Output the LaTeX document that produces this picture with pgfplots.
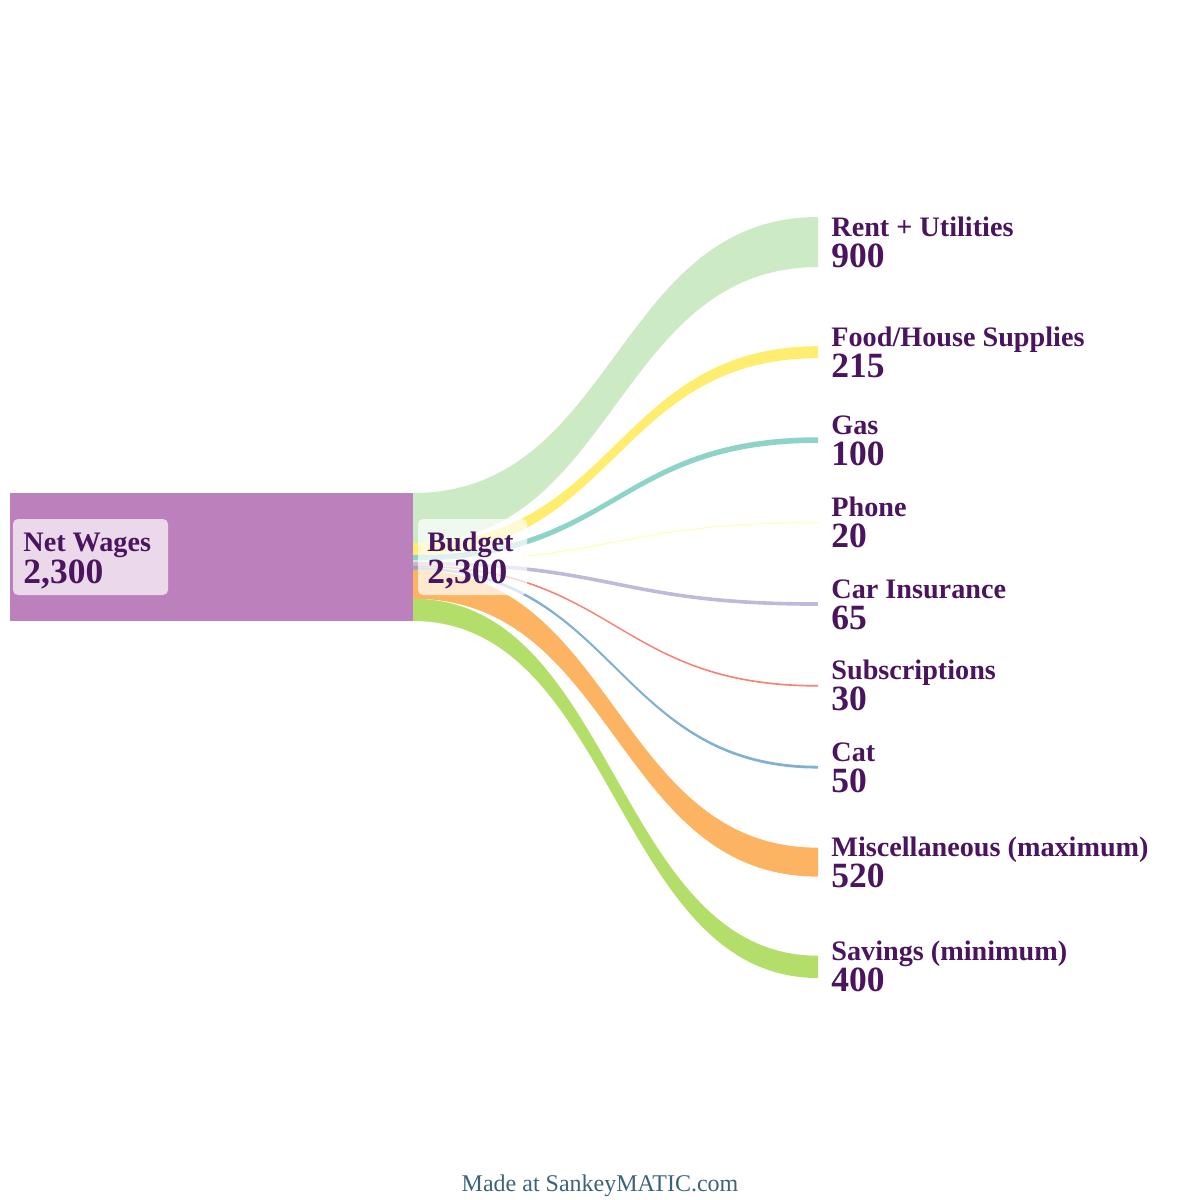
\documentclass[border=0pt]{standalone}
\usepackage{pgfplots}
\usepackage{pgfplotstable}
\pgfplotsset{compat=1.18}
\usepackage{fontspec}
\setmainfont{Liberation Serif}
\definecolor{labcol}{RGB}{75,20,95}
\definecolor{cNet}{HTML}{BC80BD}
\definecolor{cRent}{HTML}{CCEBC5}
\definecolor{cFood}{HTML}{FFED6F}
\definecolor{cGas}{HTML}{8DD3C7}
\definecolor{cPhone}{HTML}{FFFFB3}
\definecolor{cCar}{HTML}{BEBADA}
\definecolor{cSubs}{HTML}{FB8072}
\definecolor{cCat}{HTML}{80B1D3}
\definecolor{cMisc}{HTML}{FDB462}
\definecolor{cSav}{HTML}{B3DE69}
\definecolor{footcol}{RGB}{60,100,120}
\newcommand\namefont{\fontsize{14.1}{16}\selectfont\bfseries}
\newcommand\valfont{\fontsize{17.75}{20}\selectfont\bfseries}

\pgfplotstableread[col sep=comma]{
name,value,col
Rent + Utilities,900,cRent
Food/House Supplies,215,cFood
Gas,100,cGas
Phone,20,cPhone
Car Insurance,65,cCar
Subscriptions,30,cSubs
Cat,50,cCat
Miscellaneous (maximum),520,cMisc
Savings (minimum),400,cSav
}\flows

\begin{document}
\begin{tikzpicture}
\begin{axis}[
  width=600pt, height=600pt, scale only axis,
  xmin=0, xmax=1200, ymin=0, ymax=1200, y dir=reverse,
  hide axis, clip=false]
\path (axis cs:0,0) rectangle (axis cs:1200,1200);
% total flow Net Wages -> Budget (2300)
\pgfmathsetmacro\myscale{128/2300}
\pgfmathsetmacro\mytot{493+2300*\myscale}
\edef\temp{\noexpand\fill[cNet] (axis cs:10,493) rectangle (axis cs:413,\mytot);}
\temp
\pgfplotstablegetrowsof{\flows}
\pgfmathtruncatemacro\myN{\pgfplotsretval-1}
\def\mysrcy{493}
\def\mytgty{217}
\def\mygap{79.125}
\pgfplotsforeachungrouped \myi in {0,...,\myN}{%
  \pgfplotstablegetelem{\myi}{value}\of\flows \let\myval\pgfplotsretval
  \pgfplotstablegetelem{\myi}{col}\of\flows \let\mycol\pgfplotsretval
  \pgfplotstablegetelem{\myi}{name}\of\flows \let\myname\pgfplotsretval
  \pgfmathsetmacro\myh{\myval*\myscale}
  \pgfmathsetmacro\mysb{\mysrcy+\myh}
  \pgfmathsetmacro\mytb{\mytgty+\myh}
  \pgfmathsetmacro\mycy{\mytgty+\myh/2}
  \pgfmathsetmacro\myny{\mycy-6}
  \pgfmathsetmacro\myvy{\mycy+25}
  \edef\temp{\noexpand\fill[\mycol] (axis cs:413,\mysrcy) .. controls (axis cs:615.5,\mysrcy) and (axis cs:615.5,\mytgty) .. (axis cs:818,\mytgty) -- (axis cs:818,\mytb) .. controls (axis cs:615.5,\mytb) and (axis cs:615.5,\mysb) .. (axis cs:413,\mysb) -- cycle;
  \noexpand\node[anchor=base west, inner sep=0pt, text=labcol, font=\noexpand\namefont] at (axis cs:831,\myny) {\myname};
  \noexpand\node[anchor=base west, inner sep=0pt, text=labcol, font=\noexpand\valfont] at (axis cs:831,\myvy) {\myval};}
  \temp
  \let\mysrcy\mysb
  \pgfmathsetmacro\mytgty{\mytb+\mygap}
}
% label boxes
\fill[white, opacity=0.7, rounded corners=2.5pt] (axis cs:13,519) rectangle (axis cs:168,595);
\fill[white, opacity=0.7, rounded corners=2.5pt] (axis cs:418,519) rectangle (axis cs:527,595);
\node[anchor=base west, inner sep=0pt, text=labcol, font=\namefont] at (axis cs:23,551) {Net Wages};
\node[anchor=base west, inner sep=0pt, text=labcol, font=\valfont] at (axis cs:23,583) {2,300};
\node[anchor=base west, inner sep=0pt, text=labcol, font=\namefont] at (axis cs:427,551) {Budget};
\node[anchor=base west, inner sep=0pt, text=labcol, font=\valfont] at (axis cs:427,583) {2,300};
\node[anchor=base, inner sep=0pt, text=footcol, font=\fontsize{12}{14}\selectfont] at (axis cs:600,1191) {Made at SankeyMATIC.com};
\end{axis}
\end{tikzpicture}
\end{document}
